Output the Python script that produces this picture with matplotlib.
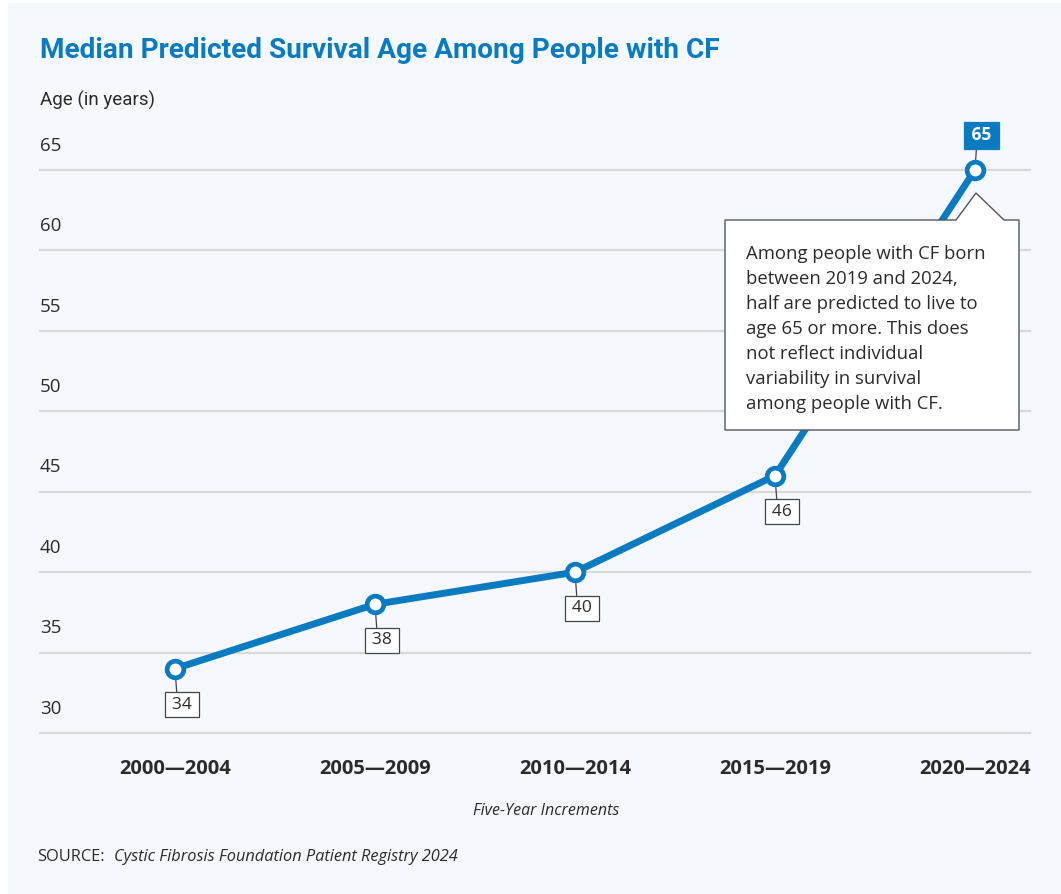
import matplotlib
matplotlib.use("Agg")
import matplotlib.pyplot as plt
import matplotlib.patches as mpatches

# ─── Datos ────────────────────────────────────────────────────────────────────
periodos = ["2000\u20142004", "2005\u20142009", "2010\u20142014", "2015\u20142019", "2020\u20142024"]
edad_mediana = [34, 38, 40, 46, 65]
y_ticks = [30, 35, 40, 45, 50, 55, 60, 65]

AZUL = "#0a7bc1"
GRIS_TXT = "#2b2b2b"
FONDO = "#f5f9fd"
FUENTE = ["Open Sans", "DejaVu Sans"]
FUENTE_NARROW = ["Liberation Sans Narrow", "Roboto", "DejaVu Sans"]

W, H = 1061, 894
fig = plt.figure(figsize=(W / 100, H / 100), dpi=100)
fig.patch.set_facecolor("white")


def px(x, y):
    """pixel (origen arriba-izq) -> fraccion de figura"""
    return x / W, 1 - y / H


# panel de fondo
fig.add_artist(mpatches.Rectangle(px(8, H), (W - 8) / W, (H - 3) / H,
                                  transform=fig.transFigure, facecolor=FONDO,
                                  edgecolor="none", zorder=-10))

# ejes: x de 40 a 1030 px, y de 170 a 733 px
x0, y0 = px(40, 733)
x1, y1 = px(1030, 170)
ax = fig.add_axes([x0, y0, x1 - x0, y1 - y0])
ax.set_facecolor("none")
ax.set_xlim(-0.675, 4.275)
ax.set_ylim(30, 65)
for s in ax.spines.values():
    s.set_visible(False)

# grilla
for v in y_ticks:
    ax.axhline(v, color="#d9d9d9", lw=1.6, zorder=0, clip_on=False)
    ax.annotate(str(v), xy=(0, v), xycoords=("axes fraction", "data"),
                xytext=(0, 11), textcoords="offset points", ha="left", va="bottom",
                fontsize=13.5, color=GRIS_TXT, family=FUENTE)
ax.set_yticks([])

xs = list(range(len(periodos)))
ax.set_xticks(xs)
ax.set_xticklabels(periodos, fontsize=14.5, fontweight="bold", color=GRIS_TXT, family=FUENTE)
ax.tick_params(axis="x", length=0, pad=19)

# linea principal
ax.plot(xs, edad_mediana, color=AZUL, lw=5, zorder=3, clip_on=False,
        marker="o", markersize=12, markerfacecolor="white",
        markeredgecolor=AZUL, markeredgewidth=3.4, solid_capstyle="round")

# etiquetas de valores
for i, v in enumerate(edad_mediana[:-1]):
    ax.annotate("\u2009" + str(v) + "\u2009", xy=(i, v), xytext=(5, -26),
                textcoords="offset points",
                ha="center", va="center", fontsize=12.5, color=GRIS_TXT, family=FUENTE,
                bbox=dict(boxstyle="square,pad=0.25", fc="white", ec="#444", lw=0.9),
                arrowprops=dict(arrowstyle="-", color="#444", lw=0.9,
                                shrinkA=0, shrinkB=0, relpos=(0.31, 1.0)),
                zorder=2, annotation_clip=False)

ax.annotate("\u2009" + str(edad_mediana[-1]) + "\u2009", xy=(xs[-1], edad_mediana[-1]),
            xytext=(4.5, 25), textcoords="offset points", ha="center", va="center",
            fontsize=12.5, fontweight="bold", color="white", family=FUENTE,
            bbox=dict(boxstyle="square,pad=0.25", fc=AZUL, ec=AZUL, lw=0.9),
            arrowprops=dict(arrowstyle="-", color="#444", lw=0.9, shrinkA=0, shrinkB=0,
                            relpos=(0.33, 0.0)),
            zorder=2, annotation_clip=False)

# recuadro de comentario
verts = [(725, 220), (956, 220), (976, 193), (1004, 220), (1019, 220),
         (1019, 430), (725, 430)]
fig.add_artist(mpatches.Polygon([px(*p) for p in verts], closed=True,
                                transform=fig.transFigure, facecolor="white",
                                edgecolor="#555555", lw=1.0, zorder=5))
nota = ("Among people with CF born\nbetween 2019 and 2024,\nhalf are predicted to live to\n"
        "age 65 or more. This does\nnot reflect individual\nvariability in survival\n"
        "among people with CF.")
fig.text(*px(746, 245), nota, ha="left", va="top", fontsize=13.3, color=GRIS_TXT,
         family=FUENTE, linespacing=1.5, zorder=6)

# textos
fig.text(*px(40, 50), "Median Predicted Survival Age Among People with CF",
         ha="left", va="center", fontsize=20.2, fontweight="bold", color=AZUL,
         family=FUENTE_NARROW)
fig.text(*px(40, 100), "Age (in years)", ha="left", va="center", fontsize=13.5,
         color=GRIS_TXT, family=FUENTE_NARROW)
fig.text(*px(546, 811), "Five-Year Increments", ha="center", va="center",
         fontsize=11.5, style="italic", color=GRIS_TXT, family=FUENTE)
fig.text(*px(37, 857), "SOURCE:", ha="left", va="center", fontsize=11.8,
         color=GRIS_TXT, family=FUENTE)
fig.text(*px(114, 857), "Cystic Fibrosis Foundation Patient Registry 2024", ha="left",
         va="center", fontsize=11.8, style="italic", color=GRIS_TXT, family=FUENTE)

fig.savefig("out.png", dpi=100, facecolor=fig.get_facecolor())
